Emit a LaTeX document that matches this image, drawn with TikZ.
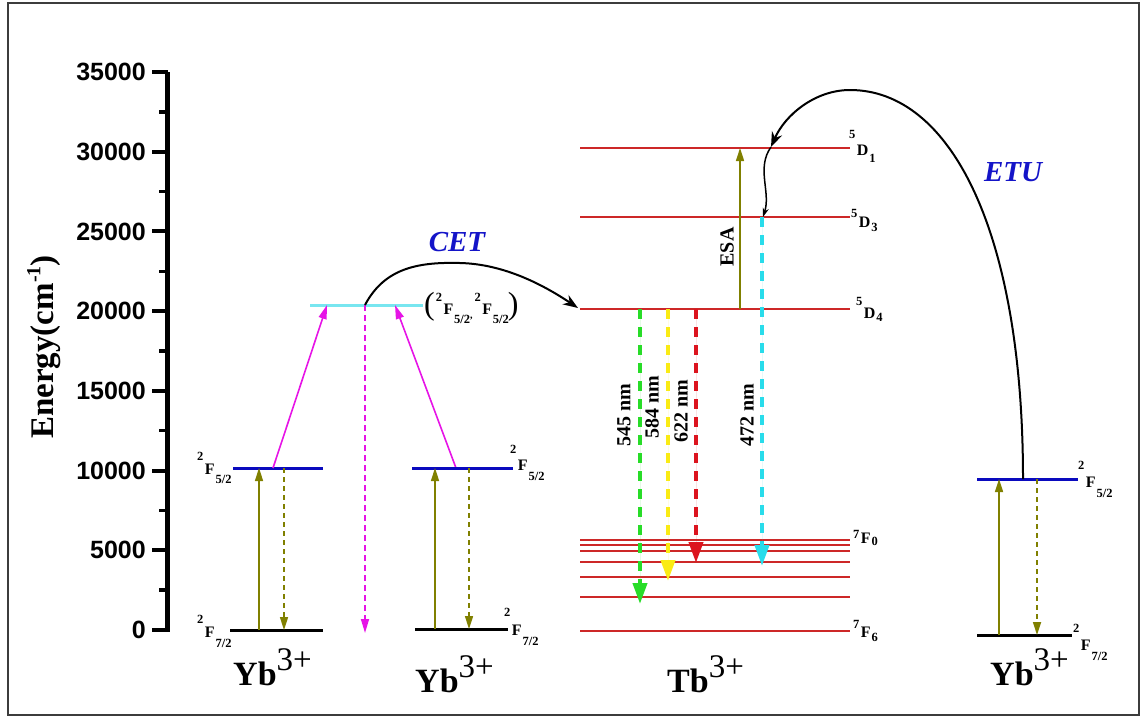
\documentclass[tikz,border=0pt]{standalone}
\usepackage{fontspec}
\setmainfont{Liberation Serif}
\newfontfamily\axfont{Liberation Sans}
\usetikzlibrary{arrows.meta}
\definecolor{lvred}{RGB}{205,40,40}
\definecolor{lvblue}{RGB}{10,10,190}
\definecolor{lvcyan}{RGB}{120,230,240}
\definecolor{olivec}{RGB}{128,128,0}
\definecolor{magc}{RGB}{230,20,230}
\definecolor{grc}{RGB}{40,220,40}
\definecolor{yec}{RGB}{250,235,20}
\definecolor{rdc}{RGB}{220,20,30}
\definecolor{cyc}{RGB}{40,220,235}
\definecolor{txblue}{RGB}{20,20,200}
\definecolor{framec}{RGB}{60,60,60}
\newcommand{\tlab}[5]{\textbf{\raisebox{#4pt}{\fontsize{12.5}{12.5}\selectfont #1}\kern1.5pt{\fontsize{16}{16}\selectfont #2}\kern0.8pt\raisebox{-#5pt}{\fontsize{12.5}{12.5}\selectfont #3}}}
\newcommand{\ion}[1]{\fontsize{34}{34}\selectfont\textbf{#1}\raisebox{15pt}{\fontsize{33}{33}\selectfont 3+}}
\begin{document}
\begin{tikzpicture}[x=1pt,y=-1pt,
  frame/.style={draw=framec,line width=2pt},
  axisline/.style={line width=5pt},
  majtick/.style={line width=4pt},
  mintick/.style={line width=3.5pt},
  ticklabel/.style={font=\axfont\bfseries\fontsize{25}{25}\selectfont,anchor=east,inner sep=0pt},
  lvr/.style={draw=lvred,line width=2pt},
  lvb/.style={draw=lvblue,line width=3pt},
  lvk/.style={draw=black,line width=3pt},
  lvc/.style={draw=lvcyan,line width=3pt},
  oup/.style={draw=olivec,line width=1.6pt,-{Triangle[width=8pt,length=13pt]}},
  odn/.style={draw=olivec,line width=1.6pt,dash pattern=on 5pt off 4pt,-{Triangle[width=8pt,length=13pt]}},
  mup/.style={draw=magc,line width=1.6pt,-{Triangle[width=8pt,length=14pt]}},
  mdn/.style={draw=magc,line width=1.6pt,dash pattern=on 6pt off 4pt,-{Triangle[width=8pt,length=14pt]}},
  emis/.style={line width=4pt,dash pattern=on 10pt off 8pt,-{Triangle[width=14pt,length=21pt]}},
  transfer/.style={draw=black,line width=2pt,-{Stealth[width=11pt,length=15pt]}},
  termlab/.style={anchor=base west,inner sep=0pt},
  wl/.style={font=\bfseries\fontsize{20}{20}\selectfont,rotate=90,inner sep=0pt},
  procl/.style={font=\bfseries\itshape\fontsize{29}{29}\selectfont,text=txblue,inner sep=0pt},
  ionl/.style={anchor=base west,inner sep=0pt}
]
\useasboundingbox (0,0) rectangle (1145,718);
\draw[frame] (8,3) rectangle (1139,715);

% axis
\coordinate (axtop) at (167,72);
\coordinate (axbot) at (167,632);
\draw[axisline] (axtop) -- (axbot);
\foreach \i/\t in {0/0,1/5000,2/10000,3/15000,4/20000,5/25000,6/30000,7/35000}{
  \coordinate (tk\i) at (152,630-\i*79.714);
  \coordinate (tke\i) at (168,630-\i*79.714);
  \draw[majtick] (tk\i) -- (tke\i);
  \node[ticklabel] (tl\i) at (146,630-\i*79.714) {\t};
}
\foreach \i in {0,...,6}{
  \coordinate (mt\i) at (159,630-\i*79.714-39.857);
  \coordinate (mte\i) at (168,630-\i*79.714-39.857);
  \draw[mintick] (mt\i) -- (mte\i);
}
\node[rotate=90,inner sep=0pt,font=\bfseries\fontsize{33}{33}\selectfont] (elab) at (44,347) {Energy(cm\raisebox{13pt}{\fontsize{20}{20}\selectfont -1})};

% Yb 1
\coordinate (Y1uL) at (233,468); \coordinate (Y1uR) at (323,468);
\coordinate (Y1lL) at (230,630); \coordinate (Y1lR) at (323,630);
\draw[lvb] (Y1uL) -- (Y1uR);
\draw[lvk] (Y1lL) -- (Y1lR);
\coordinate (a1b) at (259,630); \coordinate (a1t) at (259,468);
\coordinate (d1t) at (284,468); \coordinate (d1b) at (284,630);
\draw[oup] (a1b) -- (a1t);
\draw[odn] (d1t) -- (d1b);

% cooperative level
\coordinate (CL) at (310,305); \coordinate (CR) at (423,305);
\draw[lvc] (CL) -- (CR);
\coordinate (m1s) at (273,468); \coordinate (m1e) at (327,305);
\coordinate (m2s) at (456,468); \coordinate (m2e) at (395,305);
\draw[mup] (m1s) -- (m1e);
\draw[mup] (m2s) -- (m2e);
\coordinate (mdt) at (365,305); \coordinate (mdb) at (365,633);
\draw[mdn] (mdt) -- (mdb);

% Yb 2
\coordinate (Y2uL) at (412,468); \coordinate (Y2uR) at (513,468);
\coordinate (Y2lL) at (415,629); \coordinate (Y2lR) at (508,629);
\draw[lvb] (Y2uL) -- (Y2uR);
\draw[lvk] (Y2lL) -- (Y2lR);
\coordinate (a2b) at (435,629); \coordinate (a2t) at (435,468);
\coordinate (d2t) at (469,468); \coordinate (d2b) at (469,629);
\draw[oup] (a2b) -- (a2t);
\draw[odn] (d2t) -- (d2b);

% Tb levels
\foreach \n/\y in {D1/148,D3/217,D4/309,F0/540,F1/545,F2/551,F3/562,F4/577,F5/597,F6/631}{
  \coordinate (\n L) at (580,\y);
  \coordinate (\n R) at (850,\y);
  \draw[lvr] (\n L) -- (\n R);
}
% ESA
\coordinate (esab) at (740,309); \coordinate (esat) at (740,148);
\draw[oup] (esab) -- (esat);
\node[wl] (esal) at (727,247) {ESA};

% emissions
\coordinate (gs) at (640,309); \coordinate (ge) at (640,604);
\coordinate (ys) at (668,309); \coordinate (ye) at (668,581);
\coordinate (rs) at (696,309); \coordinate (re) at (696,563);
\coordinate (cs) at (762,217); \coordinate (ce) at (762,566);
\draw[emis,draw=grc,fill=grc] (gs) -- (ge);
\draw[emis,draw=yec,fill=yec] (ys) -- (ye);
\draw[emis,draw=rdc,fill=rdc] (rs) -- (re);
\draw[emis,draw=cyc,fill=cyc] (cs) -- (ce);
\node[wl] (w545) at (624,415) {545 nm};
\node[wl] (w584) at (652,407) {584 nm};
\node[wl] (w622) at (681,411) {622 nm};
\node[wl] (w472) at (747,415) {472 nm};

% Yb 3
\coordinate (Y3uL) at (977,479); \coordinate (Y3uR) at (1078,479);
\coordinate (Y3lL) at (977,635); \coordinate (Y3lR) at (1072,635);
\draw[lvb] (Y3uL) -- (Y3uR);
\draw[lvk] (Y3lL) -- (Y3lR);
\coordinate (a3b) at (999,635); \coordinate (a3t) at (999,479);
\coordinate (d3t) at (1037,479); \coordinate (d3b) at (1037,635);
\draw[oup] (a3b) -- (a3t);
\draw[odn] (d3t) -- (d3b);

% CET transfer
\coordinate (cets) at (365,305);
\coordinate (cetp) at (460,263);
\coordinate (cete) at (578,308);
\draw[transfer] (cets) .. controls (385,267) and (420,262) .. (cetp) .. controls (505,264) and (545,286) .. (cete);
\node[procl] (cet) at (457,242) {CET};

% ETU transfer
\coordinate (etus) at (1023,479);
\coordinate (etup) at (850,90);
\coordinate (etue) at (771,147);
\draw[transfer] (etus) .. controls (1023,230) and (950,90) .. (etup) .. controls (815,90) and (785,115) .. (etue);
\coordinate (wave) at (763,217);
\draw[draw=black,line width=1.5pt,-{Stealth[width=6pt,length=9pt]}] (etue) .. controls (756,168) and (771,192) .. (wave);
\node[procl] (etu) at (1013,172) {ETU};

% term labels
\node[termlab] (l1u) at (197,474) {\tlab{2}{F}{5/2}{14}{9}};
\node[termlab] (l1l) at (197,637) {\tlab{2}{F}{7/2}{14}{10}};
\node[termlab] (l2u) at (510,470) {\tlab{2}{F}{5/2}{17}{10}};
\node[termlab] (l2l) at (504,635) {\tlab{2}{F}{7/2}{19}{10}};
\node[termlab] (l3u) at (1078,487) {\tlab{2}{F}{5/2}{18}{10}};
\node[termlab] (l3l) at (1073,650) {\tlab{2}{F}{7/2}{18}{10}};
\node[termlab] (lD1) at (849,155) {\tlab{5}{D}{1}{17}{7}};
\node[termlab] (lD3) at (851,227) {\tlab{5}{D}{3}{10}{4}};
\node[termlab] (lD4) at (856,318) {\tlab{5}{D}{4}{13}{3}};
\node[termlab] (lF0) at (853,543) {\tlab{7}{F}{0}{5}{2}};
\node[termlab] (lF6) at (853,637) {\tlab{7}{F}{6}{9}{4}};
\node[termlab] (lpair) at (424,314) {{\fontsize{32}{32}\selectfont(}\kern1pt\tlab{2}{F}{5/2}{13}{9}\raisebox{-4pt}{\textbf{,}}\kern2pt\tlab{2}{F}{5/2}{13}{9}\kern-1pt{\fontsize{32}{32}\selectfont)}};

% ion labels
\node[ionl] (ion1) at (233,685) {\ion{Yb}};
\node[ionl] (ion2) at (415,692) {\ion{Yb}};
\node[ionl] (ion3) at (667,692) {\ion{Tb}};
\node[ionl] (ion4) at (990,685) {\ion{Yb}};
\end{tikzpicture}
\end{document}
